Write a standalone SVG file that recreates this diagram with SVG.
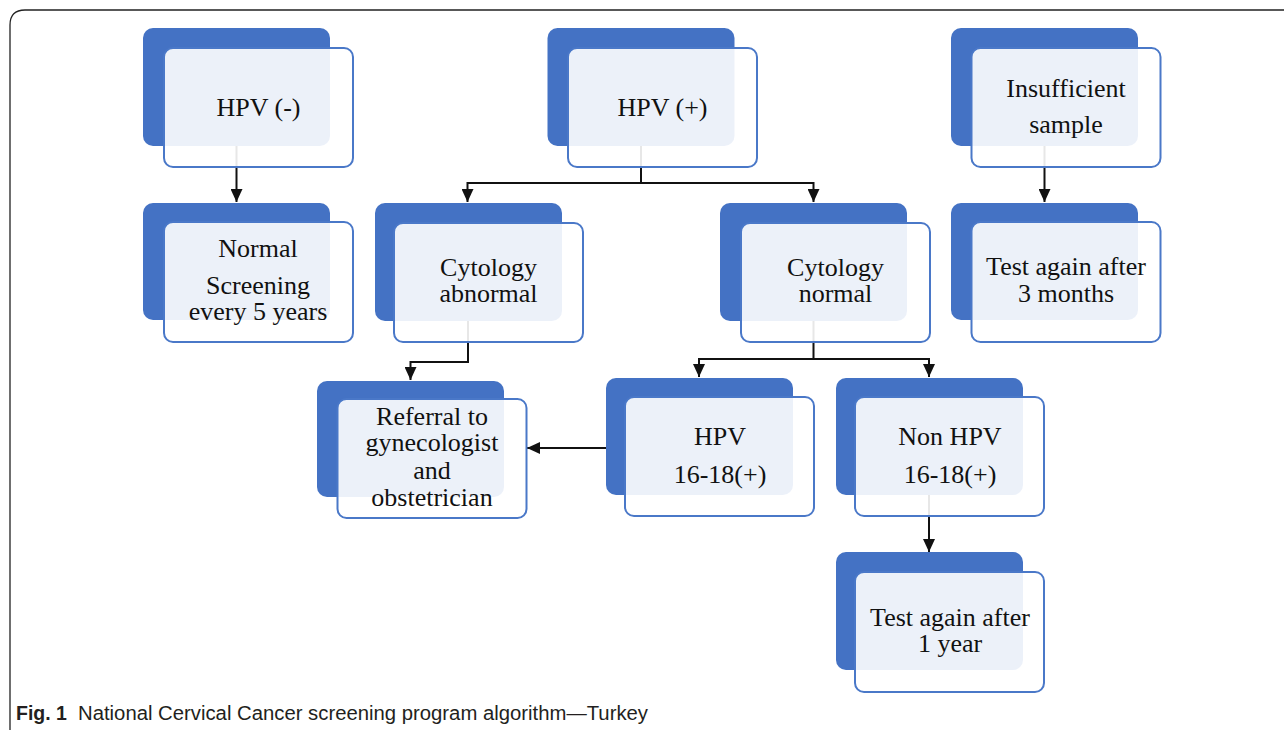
<svg xmlns="http://www.w3.org/2000/svg" width="1284" height="730" viewBox="0 0 1284 730">
<defs>
<style>
.bk{fill:#4472C4}
.fr{fill:#ffffff;fill-opacity:0.9;stroke:#4A78C8;stroke-width:2}
.t{font-family:"Liberation Serif","Times New Roman",serif;font-size:26px;fill:#111;text-anchor:middle}
.c{fill:none;stroke:#111;stroke-width:2}
.cap{font-family:"Liberation Sans",Arial,sans-serif;font-size:19.5px;fill:#231F20}
</style>
<marker id="ah" markerUnits="userSpaceOnUse" markerWidth="13" markerHeight="12" refX="13" refY="6" orient="auto">
<path d="M0,0 L13,6 L0,12 z" fill="#111"/>
</marker>
</defs>
<rect width="1284" height="730" fill="#fff"/>
<path d="M10,730 L10,25 Q10,10 25,10 L1284,10" fill="none" stroke="#222" stroke-width="1.3"/>

<g id="connectors">
<path class="c" d="M236.5,146 V202" marker-end="url(#ah)"/>
<path class="c" d="M641,146 V183 H467.5 V202" marker-end="url(#ah)"/>
<path class="c" d="M641,183 H813.5 V202" marker-end="url(#ah)"/>
<path class="c" d="M1044.5,146 V202" marker-end="url(#ah)"/>
<path class="c" d="M468,321 V362 H410.5 V380" marker-end="url(#ah)"/>
<path class="c" d="M813.5,321 V359 H699 V377" marker-end="url(#ah)"/>
<path class="c" d="M813.5,359 H929 V377" marker-end="url(#ah)"/>
<path class="c" d="M618,448 H527" marker-end="url(#ah)"/>
<path class="c" d="M929,495 V552" marker-end="url(#ah)"/>
</g>

<g id="n-hpv-neg">
<rect class="bk" x="143" y="28" width="187" height="118" rx="10"/>
<rect class="fr" x="164" y="48" width="189" height="119" rx="9"/>
<text class="t" x="258.5" y="116">HPV (-)</text>
</g>
<g id="n-hpv-pos">
<rect class="bk" x="547.5" y="28" width="187" height="118" rx="10"/>
<rect class="fr" x="568" y="48" width="189" height="119" rx="9"/>
<text class="t" x="662.5" y="116">HPV (+)</text>
</g>
<g id="n-insufficient">
<rect class="bk" x="951" y="28" width="187" height="118" rx="10"/>
<rect class="fr" x="971.5" y="48" width="189" height="119" rx="9"/>
<text class="t" x="1066" y="97">Insufficient</text>
<text class="t" x="1066" y="133">sample</text>
</g>
<g id="n-normal">
<rect class="bk" x="143" y="203" width="187" height="117" rx="10"/>
<rect class="fr" x="164" y="222" width="189" height="120" rx="9"/>
<text class="t" x="258" y="257">Normal</text>
<text class="t" x="258" y="294">Screening</text>
<text class="t" x="258" y="320">every 5 years</text>
</g>
<g id="n-cyto-abn">
<rect class="bk" x="375" y="203" width="187" height="118" rx="10"/>
<rect class="fr" x="394" y="223" width="189" height="119" rx="9"/>
<text class="t" x="488.5" y="276">Cytology</text>
<text class="t" x="488.5" y="302">abnormal</text>
</g>
<g id="n-cyto-norm">
<rect class="bk" x="720" y="203" width="187" height="118" rx="10"/>
<rect class="fr" x="741" y="223" width="189" height="119" rx="9"/>
<text class="t" x="835.5" y="276">Cytology</text>
<text class="t" x="835.5" y="302">normal</text>
</g>
<g id="n-test-3m">
<rect class="bk" x="951" y="203" width="187" height="117" rx="10"/>
<rect class="fr" x="971.5" y="222" width="189" height="120" rx="9"/>
<text class="t" x="1066" y="275">Test again after</text>
<text class="t" x="1066" y="302">3 months</text>
</g>
<g id="n-referral">
<rect class="bk" x="317" y="381" width="187" height="116" rx="10"/>
<rect class="fr" x="337.5" y="399" width="189" height="119" rx="9"/>
<text class="t" x="432" y="425">Referral to</text>
<text class="t" x="432" y="451">gynecologist</text>
<text class="t" x="432" y="479">and</text>
<text class="t" x="432" y="506">obstetrician</text>
</g>
<g id="n-hpv1618">
<rect class="bk" x="606" y="378" width="187" height="117" rx="10"/>
<rect class="fr" x="625" y="397" width="189" height="119" rx="9"/>
<text class="t" x="720" y="445">HPV</text>
<text class="t" x="720" y="483">16-18(+)</text>
</g>
<g id="n-nonhpv1618">
<rect class="bk" x="836" y="378" width="187" height="117" rx="10"/>
<rect class="fr" x="855" y="397" width="189" height="119" rx="9"/>
<text class="t" x="950" y="445">Non HPV</text>
<text class="t" x="950" y="483">16-18(+)</text>
</g>
<g id="n-test-1y">
<rect class="bk" x="836" y="552" width="187" height="118" rx="10"/>
<rect class="fr" x="855" y="572" width="189" height="120" rx="9"/>
<text class="t" x="950" y="626">Test again after</text>
<text class="t" x="950" y="652">1 year</text>
</g>

<text class="cap" x="16" y="720" font-weight="bold">Fig. 1</text>
<text class="cap" x="78" y="720" textLength="570" lengthAdjust="spacingAndGlyphs">National Cervical Cancer screening program algorithm—Turkey</text>
</svg>
